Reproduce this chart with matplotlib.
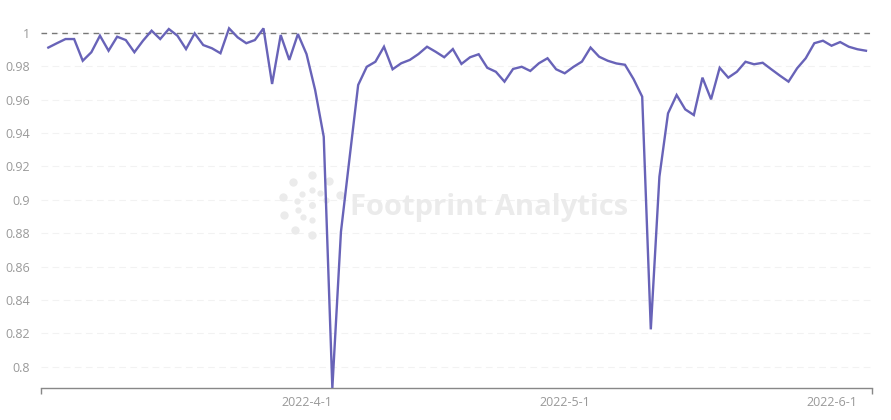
import matplotlib.pyplot as plt
import matplotlib.dates as mdates
import numpy as np
import pandas as pd

dates = pd.date_range("2022-03-02", periods=96, freq="D")
ratio = [
    0.9911, 0.9937, 0.9962, 0.9962, 0.9832, 0.9883, 0.9982, 0.9892, 0.9976, 0.9956,
    0.9883, 0.9952, 1.0012, 0.9962, 1.0022, 0.9982, 0.9902, 0.9996, 0.9926, 0.9907,
    0.9877, 1.0026, 0.9972, 0.9937, 0.9956, 1.0026, 0.9693, 0.9986, 0.9837, 0.9992,
    0.9872, 0.9657, 0.9377, 0.7873, 0.8808, 0.9250, 0.9687, 0.9796, 0.9826, 0.9916,
    0.9781, 0.9817, 0.9837, 0.9872, 0.9916, 0.9886, 0.9853, 0.9902, 0.9813, 0.9853,
    0.9871, 0.9790, 0.9766, 0.9707, 0.9783, 0.9796, 0.9771, 0.9817, 0.9847, 0.9781,
    0.9757, 0.9795, 0.9827, 0.9911, 0.9856, 0.9832, 0.9816, 0.9808, 0.9722, 0.9617,
    0.8224, 0.9138, 0.9517, 0.9627, 0.9541, 0.9507, 0.9731, 0.9601, 0.9790, 0.9731,
    0.9766, 0.9826, 0.9811, 0.9820, 0.9781, 0.9743, 0.9707, 0.9787, 0.9847, 0.9937,
    0.9952, 0.9922, 0.9944, 0.9916, 0.9901, 0.9892,
]
y_ticks = [0.8, 0.82, 0.84, 0.86, 0.88, 0.9, 0.92, 0.94, 0.96, 0.98, 1.0]
x_ticks = pd.to_datetime(["2022-04-01", "2022-05-01", "2022-06-01"])
ref_level = 1.0

plt.rcParams['font.family'] = ['Open Sans', 'DejaVu Sans']

fig = plt.figure(figsize=(8.91, 4.2), dpi=100)
ax = fig.add_axes([41 / 891, 32 / 420, 831 / 891, 368 / 420])

day = pd.Timedelta(days=1)
xmin = dates[0] - 0.85 * day
xmax = dates[-1] + 0.7 * day
ax.set_xlim(xmin, xmax)
ax.set_ylim(min(ratio), 1.0076)

for t in y_ticks:
    ax.axhline(t, color='#f2f2f2', linewidth=0.8, linestyle=(0, (6, 4)), zorder=0)
ax.axhline(ref_level, color='#777777', linewidth=1.0, linestyle=(0, (4, 3.5)), zorder=1)

ax.plot(dates, ratio, color='#6863b8', linewidth=1.7, solid_joinstyle='miter', zorder=3)

# watermark: logo burst + text
wm = '#ebebeb'
cx, cy = 0.326, 0.497
for ang in np.radians([90, 130, 165, 200, 235, 270, 20, 55]):
    for r, ms in [(0.018, 3.5), (0.036, 5)]:
        ax.plot(cx + r * np.cos(ang), cy + r * 2.26 * np.sin(ang), 'o', ms=ms,
                color=wm, transform=ax.transAxes, zorder=2)
ax.plot(cx, cy, 'o', ms=4, color=wm, transform=ax.transAxes, zorder=2)
ax.text(0.539, 0.470, 'Footprint Analytics', transform=ax.transAxes, ha='center', va='baseline',
        fontsize=21, fontweight='bold', color=wm, zorder=2)

for s in ['top', 'right', 'left']:
    ax.spines[s].set_visible(False)
ax.spines['bottom'].set_color('#888888')
ax.spines['bottom'].set_linewidth(1.0)

ax.set_yticks(y_ticks)
ax.set_yticklabels([f'{t:g}' for t in y_ticks])
ax.tick_params(axis='y', length=0, pad=8, labelsize=9, labelcolor='#999999')

ax.set_xticks(x_ticks)
ax.set_xticklabels([f'{d.year}-{d.month}-{d.day}' for d in x_ticks])
ax.tick_params(axis='x', length=0, pad=6, labelsize=9, labelcolor='#999999')
ax.set_xticks([mdates.date2num(xmin), mdates.date2num(xmax)], minor=True)
ax.tick_params(axis='x', which='minor', length=4, color='#888888', width=1)

fig.savefig('out.png', dpi=100)
